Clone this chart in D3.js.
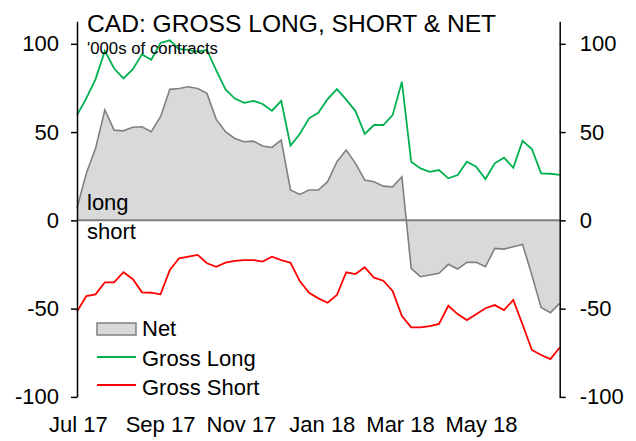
<!DOCTYPE html>
<html>
<head>
<meta charset="utf-8">
<script src="https://cdn.jsdelivr.net/npm/d3@7"></script>
<style>
  body { margin: 0; background: #fff; }
  text { font-family: "Liberation Sans", Arial, sans-serif; fill: #000; }
</style>
</head>
<body>
<div id="chart"></div>
<script>
// weekly CFTC positioning, '000s of contracts
var startDate = new Date(2017, 5, 30)
var grossLong = [59.6, 69.1, 80, 96, 86, 80.4, 85.5, 94, 91, 100.5, 102, 97, 96.5, 95.5, 96.5, 85,
    74.2, 69, 66.6, 67.7, 65.9, 62.1, 67.7, 42.3, 48.9, 57.8, 60.9, 68.7, 74.3, 68.4, 61.9, 48.9,
    54, 54, 59.6, 78.5, 33.2, 29.4, 27.5, 28.5, 23.8, 25.7, 33.2, 30.4, 23.4, 32.3, 35.5, 29.8,
    45.1, 40.4, 26.6, 26.4, 25.7]
var grossShort = [-51.7, -42.9, -41.9, -35.1, -35.1, -29.4, -33.2, -40.8, -41, -41.9, -28.1, -21.5,
    -20.6, -19.6, -24.3, -26.3, -24, -23, -22.5, -22.5, -23.4, -20.6, -22.5, -24, -34.4, -41, -44.2,
    -46.7, -42.3, -29.4, -30.4, -26.6, -32.5, -34.2, -40, -54.2, -60.6, -60.6, -59.9, -58.7, -48.4,
    -53.1, -56.5, -53.2, -49.8, -48, -50.8, -45.1, -59, -73.4, -76.3, -78.6, -72]
var net = [7, 26.6, 40.8, 62.5, 51.1, 50.7, 52.7, 53, 50.2, 58.7, 74.2, 74.7, 75.7, 74.7, 71.9, 57.2,
    50.2, 46.4, 44.5, 44.9, 42.1, 41.3, 45.5, 17.2, 14.7, 17.2, 17.2, 21.9, 33.2, 39.8, 32.3, 22.8,
    21.9, 19.4, 19, 24.7, -27.2, -31.9, -31, -30, -24.9, -27.6, -23.8, -23.8, -26.3, -15.9, -16.3,
    -14.9, -13.6, -31, -49.3, -52.3, -47]
var yTicks = [-100, -50, 0, 50, 100]
var xTickDates = [new Date(2017, 6, 1), new Date(2017, 8, 1), new Date(2017, 10, 1),
    new Date(2018, 0, 1), new Date(2018, 2, 1), new Date(2018, 4, 1)]
var xTickLabels = ["Jul 17", "Sep 17", "Nov 17", "Jan 18", "Mar 18", "May 18"]

var dates = net.map((d, i) => d3.timeDay.offset(startDate, i * 7))

var width = 636, height = 441
var left = 77, right = 559.7

var svg = d3.select("#chart").append("svg")
    .attr("width", width)
    .attr("height", height)

var x = d3.scaleTime()
    .domain([dates[0], dates[dates.length - 1]])
    .range([left, right])

var y = d3.scaleLinear()
    .domain([-100, 112.8])
    .range([396.9, 21.2])

// net area
svg.append("path")
    .datum(net)
    .attr("fill", "#d9d9d9")
    .attr("d", d3.area()
        .x((d, i) => x(dates[i]))
        .y0(y(0))
        .y1(d => y(d)))

svg.append("path")
    .datum(net)
    .attr("fill", "none")
    .attr("stroke", "#808080")
    .attr("stroke-width", 1.6)
    .attr("d", d3.line().x((d, i) => x(dates[i])).y(d => y(d)))

svg.append("line")
    .attr("x1", left).attr("x2", right)
    .attr("y1", y(0)).attr("y2", y(0))
    .attr("stroke", "#808080")
    .attr("stroke-width", 2)

var line = d3.line().x((d, i) => x(dates[i])).y(d => y(d))

svg.append("path")
    .datum(grossLong)
    .attr("fill", "none")
    .attr("stroke", "#00b050")
    .attr("stroke-width", 1.8)
    .attr("d", line)

svg.append("path")
    .datum(grossShort)
    .attr("fill", "none")
    .attr("stroke", "#ff0000")
    .attr("stroke-width", 1.8)
    .attr("d", line)

// axes, plain hyphen for negatives
var fmt = d => String(d)
var leftAxis = d3.axisLeft(y).tickValues(yTicks).tickFormat(fmt).tickSize(6).tickSizeOuter(0).tickPadding(12)
var rightAxis = d3.axisRight(y).tickValues(yTicks).tickFormat(fmt).tickSize(6).tickSizeOuter(0).tickPadding(14)

svg.append("g")
    .attr("transform", "translate(" + left + ",0)")
    .call(leftAxis)
    .call(styleAxis)

svg.append("g")
    .attr("transform", "translate(" + right + ",0)")
    .call(rightAxis)
    .call(styleAxis)

function styleAxis(g) {
    g.select(".domain").attr("stroke", "#000").attr("stroke-width", 1.5)
    g.selectAll(".tick line").attr("stroke", "#000").attr("stroke-width", 1.5)
    g.selectAll(".tick text")
        .style("font-family", '"Liberation Sans", Arial, sans-serif')
        .style("font-size", "22px")
        .attr("fill", "#000")
}

svg.selectAll(".xlabel")
    .data(xTickDates)
    .enter().append("text")
    .attr("class", "xlabel")
    .attr("x", d => x(d))
    .attr("y", 432)
    .attr("text-anchor", "middle")
    .style("font-size", "22px")
    .text((d, i) => xTickLabels[i])

// titles
svg.append("text")
    .attr("x", 87).attr("y", 32)
    .style("font-size", "24.6px")
    .text("CAD: GROSS LONG, SHORT & NET")

svg.append("text")
    .attr("x", 87).attr("y", 54)
    .style("font-size", "16.8px")
    .text("'000s of contracts")

svg.append("text")
    .attr("x", 87).attr("y", 210)
    .style("font-size", "22px")
    .text("long")

svg.append("text")
    .attr("x", 87).attr("y", 239)
    .style("font-size", "22px")
    .text("short")

// legend
var legend = svg.append("g")

legend.append("rect")
    .attr("x", 97).attr("y", 323)
    .attr("width", 39).attr("height", 12)
    .attr("fill", "#d9d9d9")
    .attr("stroke", "#808080")
    .attr("stroke-width", 1.5)

legend.append("line")
    .attr("x1", 97).attr("x2", 136)
    .attr("y1", 357).attr("y2", 357)
    .attr("stroke", "#00b050").attr("stroke-width", 1.8)

legend.append("line")
    .attr("x1", 97).attr("x2", 136)
    .attr("y1", 385).attr("y2", 385)
    .attr("stroke", "#ff0000").attr("stroke-width", 1.8)

var legendNames = ["Net", "Gross Long", "Gross Short"]
legend.selectAll(".ltext")
    .data(legendNames)
    .enter().append("text")
    .attr("x", 142)
    .attr("y", (d, i) => 336 + i * 29.5)
    .style("font-size", "22px")
    .text(d => d)
</script>
</body>
</html>
